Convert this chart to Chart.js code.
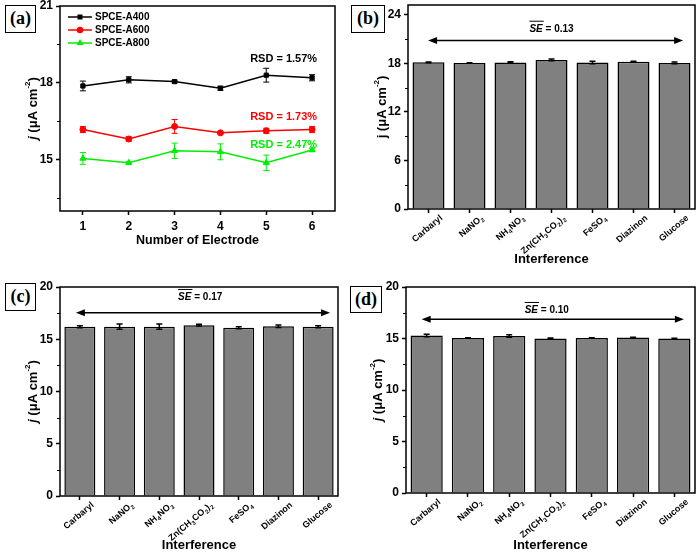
<!DOCTYPE html>
<html>
<head>
<meta charset="utf-8">
<script src="https://cdn.jsdelivr.net/npm/chart.js@4.4.1/dist/chart.umd.min.js"></script>
<style>
  body { margin: 0; background: #fff; }
  #wrap { position: relative; width: 700px; height: 552px; overflow: hidden; background: #fff; }
  canvas { position: absolute; }
  .tag { position: absolute; box-sizing: border-box; border: 1.5px solid #000; background: #fff;
         font: bold 18px "Liberation Serif", "Times New Roman", serif; text-align: center; }
</style>
</head>
<body>
<div id="wrap">
  <canvas id="chartA" width="350" height="270" style="left:0;top:0"></canvas>
  <canvas id="chartB" width="350" height="270" style="left:350px;top:0"></canvas>
  <canvas id="chartC" width="350" height="282" style="left:0;top:270px"></canvas>
  <canvas id="chartD" width="350" height="282" style="left:350px;top:270px"></canvas>
  <div class="tag" style="left:5px;top:5px;width:31px;height:28px;line-height:25px">(a)</div>
  <div class="tag" style="left:351px;top:5px;width:34px;height:28px;line-height:25px">(b)</div>
  <div class="tag" style="left:5px;top:283px;width:31px;height:28px;line-height:25px">(c)</div>
  <div class="tag" style="left:350px;top:286px;width:32px;height:27px;line-height:24px">(d)</div>
</div>
<script>
// panel (a): current density of three electrode series
const electrodes = [1, 2, 3, 4, 5, 6];
const seriesNames = ['SPCE-A400', 'SPCE-A600', 'SPCE-A800'];
const a400 = [17.88, 18.12, 18.05, 17.79, 18.30, 18.20];
const a400Err = [0.19, 0.12, 0.05, 0.08, 0.27, 0.12];
const a600 = [16.18, 15.81, 16.30, 16.05, 16.13, 16.18];
const a600Err = [0.12, 0.09, 0.27, 0.03, 0.10, 0.12];
const a800 = [15.05, 14.88, 15.35, 15.31, 14.88, 15.38];
const a800Err = [0.23, 0.05, 0.30, 0.31, 0.30, 0.05];
const rsdLabels = ['RSD = 1.57%', 'RSD = 1.73%', 'RSD = 2.47%'];
const rsdY = [18.93, 16.67, 15.58];
const yTicksA = [13.5, 15, 16.5, 18, 19.5, 21];

// panels (b)-(d): interference study
const interferents = ['Carbaryl', 'NaNO₂', 'NH₄NO₃', 'Zn(CH₃CO₂)₂', 'FeSO₄', 'Diazinon', 'Glucose'];
const jB = [18.12, 18.05, 18.10, 18.42, 18.10, 18.20, 18.05];
const jBErr = [0.05, 0.02, 0.08, 0.12, 0.15, 0.04, 0.12];
const jC = [16.20, 16.20, 16.20, 16.35, 16.10, 16.25, 16.20];
const jCErr = [0.10, 0.25, 0.25, 0.08, 0.10, 0.12, 0.10];
const jD = [15.30, 15.05, 15.25, 15.00, 15.05, 15.10, 15.00];
const jDErr = [0.12, 0.03, 0.12, 0.05, 0.02, 0.02, 0.03];
const yTicksB = [0, 3, 6, 9, 12, 15, 18, 21, 24];
const yTicksCD = [0, 2.5, 5, 7.5, 10, 12.5, 15, 17.5, 20];
const seB = '0.13', seC = '0.17', seD = '0.10';

const FONT = '"Liberation Sans", Arial, sans-serif';
const SUBS = '₀₁₂₃₄₅₆₇₈₉';

function drawYTitle(chart, x, italicJ) {
  const ctx = chart.ctx, area = chart.chartArea;
  const parts = [
    { t: 'j', f: (italicJ ? 'italic ' : '') + 'bold 13px ' + FONT, dy: 0 },
    { t: ' (\u03bcA cm', f: 'bold 13px ' + FONT, dy: 0 },
    { t: '-2', f: 'bold 8px ' + FONT, dy: -5 },
    { t: ')', f: 'bold 13px ' + FONT, dy: 0 }
  ];
  ctx.save();
  ctx.translate(x, (area.top + area.bottom) / 2);
  ctx.rotate(-Math.PI / 2);
  let total = 0;
  parts.forEach(p => { ctx.font = p.f; p.w = ctx.measureText(p.t).width; total += p.w; });
  let cx = -total / 2;
  ctx.fillStyle = '#000';
  ctx.textBaseline = 'middle';
  ctx.textAlign = 'left';
  parts.forEach(p => { ctx.font = p.f; ctx.fillText(p.t, cx, p.dy); cx += p.w; });
  ctx.restore();
}

// rotated category labels with real (smaller, lowered) subscripts
function drawXLabels(chart) {
  const ctx = chart.ctx, xs = chart.scales.x, a = chart.chartArea;
  const fMain = 'bold 9px ' + FONT, fSub = 'bold 6px ' + FONT;
  ctx.save();
  ctx.fillStyle = '#000';
  ctx.textBaseline = 'middle';
  ctx.textAlign = 'left';
  chart.data.labels.forEach((lab, i) => {
    const parts = [];
    for (const ch of lab) {
      const k = SUBS.indexOf(ch);
      const sub = k >= 0;
      const t = sub ? String(k) : ch;
      const last = parts[parts.length - 1];
      if (last && last.sub === sub) last.t += t; else parts.push({ t: t, sub: sub });
    }
    let total = 0;
    parts.forEach(p => { ctx.font = p.sub ? fSub : fMain; p.w = ctx.measureText(p.t).width + (p.sub ? 0.5 : 0); total += p.w; });
    ctx.save();
    ctx.translate(xs.getPixelForValue(i) + 13, a.bottom + 8);
    ctx.rotate(-40 * Math.PI / 180);
    let cx = -total;
    parts.forEach(p => {
      ctx.font = p.sub ? fSub : fMain;
      ctx.fillText(p.t, cx + (p.sub ? 0.3 : 0), p.sub ? 3 : 0);
      cx += p.w;
    });
    ctx.restore();
  });
  ctx.restore();
}

function drawFrameAndMinor(chart, majorStep) {
  const ctx = chart.ctx, a = chart.chartArea, ys = chart.scales.y;
  ctx.save();
  ctx.strokeStyle = '#000';
  ctx.lineWidth = 1.5;
  ctx.strokeRect(a.left, a.top, a.right - a.left, a.bottom - a.top);
  ctx.lineWidth = 1;
  ys.ticks.forEach(t => {
    if (t.value % majorStep === 0) return;
    const py = Math.round(ys.getPixelForValue(t.value)) + 0.5;
    ctx.beginPath();
    ctx.moveTo(a.left - 3, py);
    ctx.lineTo(a.left, py);
    ctx.stroke();
  });
  ctx.restore();
}

function drawErrors(chart, capHalf, width) {
  const ctx = chart.ctx, ys = chart.scales.y;
  chart.data.datasets.forEach((ds, di) => {
    if (!ds.errors) return;
    const meta = chart.getDatasetMeta(di);
    ctx.save();
    ctx.strokeStyle = ds.errorColor || ds.borderColor;
    ctx.lineWidth = width;
    meta.data.forEach((el, i) => {
      const d = ds.data[i];
      const v = typeof d === 'object' ? d.y : d;
      const e = ds.errors[i];
      const top = ys.getPixelForValue(v + e), bot = ys.getPixelForValue(v - e);
      ctx.beginPath();
      ctx.moveTo(el.x, top); ctx.lineTo(el.x, bot);
      ctx.moveTo(el.x - capHalf, top); ctx.lineTo(el.x + capHalf, top);
      ctx.moveTo(el.x - capHalf, bot); ctx.lineTo(el.x + capHalf, bot);
      ctx.stroke();
    });
    ctx.restore();
  });
}

function drawSE(chart, se) {
  const ctx = chart.ctx, xs = chart.scales.x, ys = chart.scales.y;
  const x0 = xs.getPixelForValue(se.from), x1 = xs.getPixelForValue(se.to);
  const ya = ys.getPixelForValue(se.y);
  ctx.save();
  ctx.strokeStyle = '#000';
  ctx.fillStyle = '#000';
  ctx.lineWidth = 1.5;
  ctx.beginPath();
  ctx.moveTo(x0 + 6, ya); ctx.lineTo(x1 - 6, ya);
  ctx.stroke();
  [[x0, 1], [x1, -1]].forEach(([px, dir]) => {
    ctx.beginPath();
    ctx.moveTo(px, ya);
    ctx.lineTo(px + dir * 9, ya - 3.5);
    ctx.lineTo(px + dir * 9, ya + 3.5);
    ctx.closePath();
    ctx.fill();
  });
  const fIt = 'italic bold 10px ' + FONT, fUp = 'bold 10px ' + FONT;
  const rest = ' = ' + se.value;
  ctx.font = fIt; const wSE = ctx.measureText('SE').width;
  ctx.font = fUp; const wRest = ctx.measureText(rest).width;
  const cx = xs.getPixelForValue(se.at) - (wSE + wRest) / 2;
  const by = ys.getPixelForValue(se.textY);
  ctx.textBaseline = 'alphabetic';
  ctx.textAlign = 'left';
  ctx.font = fIt; ctx.fillText('SE', cx, by);
  ctx.font = fUp; ctx.fillText(rest, cx + wSE, by);
  ctx.lineWidth = 1;
  ctx.beginPath();
  ctx.moveTo(cx, by - 10.5); ctx.lineTo(cx + wSE + 1, by - 10.5);
  ctx.stroke();
  ctx.restore();
}

function baseScales(geo, yMin, yMax, yTicks, majorStep) {
  return {
    y: {
      min: yMin, max: yMax,
      afterBuildTicks: s => { s.ticks = yTicks.map(v => ({ value: v })); },
      afterFit: s => { s.width = geo.left - geo.padL; s.paddingTop = 0; s.paddingBottom = 0; },
      border: { display: false },
      grid: {
        drawOnChartArea: false, tickLength: 4, tickWidth: 1.5,
        tickColor: c => (c.tick && c.tick.value % majorStep === 0) ? '#000' : 'rgba(0,0,0,0)'
      },
      ticks: {
        padding: 3, color: '#000', font: { family: FONT, size: 12, weight: 'bold' },
        callback: v => (v % majorStep === 0 ? String(v) : '')
      }
    }
  };
}

function layoutFor(geo) {
  return { padding: { left: geo.padL, top: geo.top, right: geo.w - geo.right, bottom: geo.padB } };
}

// ---------- panel (a) ----------
const geoA = { w: 350, h: 270, left: 60, top: 6, right: 335, bottom: 211, padL: 2, padB: 23.5 };
const scalesA = baseScales(geoA, 13, 21, yTicksA, 3);
scalesA.x = {
  type: 'linear', min: 0.5, max: 6.5,
  afterBuildTicks: s => { s.ticks = electrodes.map(v => ({ value: v })); },
  afterFit: s => { s.height = geoA.h - geoA.bottom - geoA.padB; s.paddingLeft = 0; s.paddingRight = 0; },
  border: { display: false },
  grid: { drawOnChartArea: false, tickLength: 4, tickWidth: 1.5, tickColor: '#000' },
  ticks: { padding: 4, color: '#000', font: { family: FONT, size: 12, weight: 'bold' } },
  title: { display: true, text: 'Number of Electrode', color: '#000', padding: 0,
           font: { family: FONT, size: 12.5, weight: 'bold', lineHeight: 1 } }
};

const colorsA = ['#000000', '#ff0000', '#00ee00'];
const stylesA = ['rect', 'circle', 'triangle'];
const valuesA = [a400, a600, a800];
const errsA = [a400Err, a600Err, a800Err];

new Chart(document.getElementById('chartA'), {
  type: 'line',
  data: {
    datasets: valuesA.map((vals, k) => ({
      label: seriesNames[k],
      data: electrodes.map((x, i) => ({ x: x, y: vals[i] })),
      errors: errsA[k],
      borderColor: colorsA[k],
      backgroundColor: colorsA[k],
      borderWidth: 1.5,
      pointStyle: stylesA[k],
      pointRadius: k === 2 ? 3.5 : 3,
      pointBorderWidth: 1
    }))
  },
  options: {
    responsive: false, animation: false, devicePixelRatio: 1,
    layout: layoutFor(geoA),
    scales: scalesA,
    plugins: { legend: { display: false }, tooltip: { enabled: false } }
  },
  plugins: [{
    id: 'decorA',
    beforeDatasetsDraw: c => drawErrors(c, 3, 1),
    afterDraw: c => {
      drawFrameAndMinor(c, 3);
      drawYTitle(c, 33, true);
      const ctx = c.ctx, a = c.chartArea, xs = c.scales.x, ys = c.scales.y;
      ctx.save();
      // RSD labels
      ctx.font = 'bold 11px ' + FONT;
      ctx.textAlign = 'right';
      ctx.textBaseline = 'middle';
      rsdLabels.forEach((t, k) => {
        ctx.fillStyle = colorsA[k];
        ctx.fillText(t, xs.getPixelForValue(6.11), ys.getPixelForValue(rsdY[k]));
      });
      // legend
      ctx.font = 'bold 10px ' + FONT;
      ctx.textAlign = 'left';
      c.data.datasets.forEach((ds, k) => {
        const ly = a.top + 11 + k * 13;
        ctx.strokeStyle = ds.borderColor;
        ctx.fillStyle = ds.borderColor;
        ctx.lineWidth = 1.5;
        ctx.beginPath();
        ctx.moveTo(a.left + 8, ly); ctx.lineTo(a.left + 32, ly);
        ctx.stroke();
        Chart.helpers.drawPoint(ctx, { pointStyle: ds.pointStyle, radius: 2.5, borderWidth: 1 }, a.left + 20, ly);
        ctx.fillStyle = '#000';
        ctx.fillText(ds.label, a.left + 35, ly + 0.5);
      });
      ctx.restore();
    }
  }]
});

// ---------- bar panels ----------
function barPanel(id, geo, values, errs, yMax, yTicks, majorStep, se, titleX, italicJ) {
  const scales = baseScales(geo, 0, yMax, yTicks, majorStep);
  scales.x = {
    type: 'category',
    afterFit: s => { s.height = geo.h - geo.bottom - geo.padB; s.paddingLeft = 0; s.paddingRight = 0; },
    border: { display: false },
    grid: { drawOnChartArea: false, offset: false, tickLength: 4, tickWidth: 1.5, tickColor: '#000' },
    ticks: { display: false },
    title: { display: true, text: 'Interference', color: '#000', padding: 0,
             font: { family: FONT, size: 13, weight: 'bold', lineHeight: 1 } }
  };
  new Chart(document.getElementById(id), {
    type: 'bar',
    data: {
      labels: interferents,
      datasets: [{
        data: values,
        errors: errs,
        errorColor: '#000',
        backgroundColor: '#808080',
        borderColor: '#000',
        borderWidth: 1.5,
        barPercentage: 0.78,
        categoryPercentage: 1
      }]
    },
    options: {
      responsive: false, animation: false, devicePixelRatio: 1,
      layout: layoutFor(geo),
      scales: scales,
      plugins: { legend: { display: false }, tooltip: { enabled: false } }
    },
    plugins: [{
      id: 'decor' + id,
      afterDatasetsDraw: c => drawErrors(c, 3, 1.5),
      afterDraw: c => {
        drawFrameAndMinor(c, majorStep);
        drawXLabels(c);
        drawYTitle(c, titleX, italicJ);
        drawSE(c, se);
      }
    }]
  });
}

barPanel('chartB', { w: 350, h: 270, left: 58, top: 5, right: 345, bottom: 209, padL: 2, padB: 4.5 },
  jB, jBErr, 25.2, yTicksB, 6,
  { value: seB, y: 20.8, textY: 21.9, from: -0.01, to: 6.21, at: 3.0 }, 32, false);

barPanel('chartC', { w: 350, h: 282, left: 60, top: 17, right: 338, bottom: 226, padL: 2, padB: 0 },
  jC, jCErr, 20, yTicksCD, 5,
  { value: seC, y: 17.54, textY: 18.76, from: -0.1, to: 6.3, at: 3.03 }, 33, true);

barPanel('chartD', { w: 350, h: 282, left: 56, top: 17, right: 345, bottom: 223, padL: 2, padB: 0.5 },
  jD, jDErr, 20, yTicksCD, 5,
  { value: seD, y: 16.86, textY: 17.48, from: -0.12, to: 6.23, at: 2.91 }, 28, true);
</script>
</body>
</html>
